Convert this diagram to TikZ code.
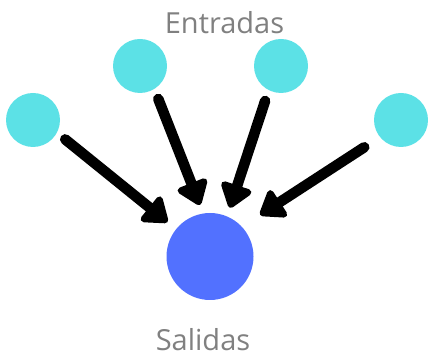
\documentclass[tikz,border=0pt]{standalone}
\usepackage{fontspec}
\setmainfont{Open Sans}
\usetikzlibrary{arrows.meta}
\definecolor{inputc}{HTML}{5CE1E6}
\definecolor{outputc}{HTML}{5271FF}
\definecolor{labelc}{HTML}{808080}
\begin{document}
\begin{tikzpicture}[x=1pt,y=1pt,
  inbox/.style={circle,fill=inputc,minimum size=54pt,inner sep=0pt},
  outbox/.style={circle,fill=outputc,minimum size=87pt,inner sep=0pt},
  lbl/.style={text=labelc,font=\fontsize{29}{34}\selectfont,anchor=base,inner sep=0pt},
  conn/.style={line width=10.5pt,line cap=round,-{Triangle[width=36pt,length=26pt,round]}}]
\useasboundingbox (0,0) rectangle (428,361);
\node[inbox] (c1) at (33,241) {};
\node[inbox] (c2) at (140,295) {};
\node[inbox] (c3) at (281,295) {};
\node[inbox] (c4) at (401,241) {};
\node[outbox] (o) at (210,104.5) {};
\node[lbl] (tin) at (224.5,327) {Entradas};
\node[lbl] (tout) at (203,10) {Salidas};
\draw[conn,shorten <=10.5pt,shorten >=11pt] (c1.-28) -- (o.141);
\draw[conn,shorten <=10.6pt,shorten >=9pt] (c2.-58) -- (o.99);
\draw[conn,shorten <=11.3pt,shorten >=9pt] (c3.-117) -- (o.67.5);
\draw[conn,shorten <=18.6pt,shorten >=21.7pt] (c4.-141) -- (o.43.8);
\end{tikzpicture}
\end{document}
